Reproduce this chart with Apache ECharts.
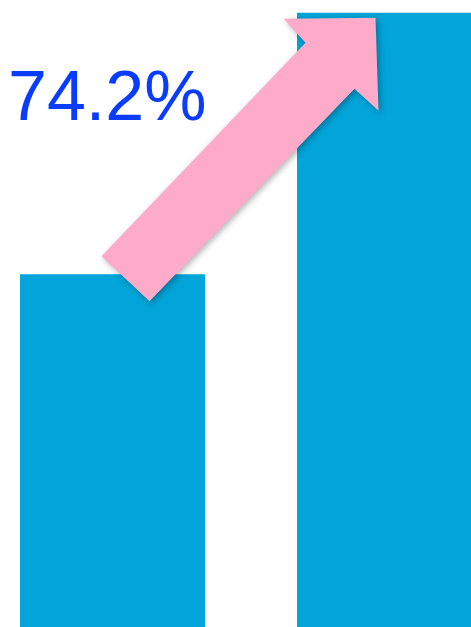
<!DOCTYPE html>
<html>
<head>
<meta charset="utf-8">
<script src="https://cdn.jsdelivr.net/npm/echarts@6/dist/echarts.min.js"></script>
<style>
  html, body { margin: 0; padding: 0; background: #ffffff; }
  #chart { width: 471px; height: 627px; }
</style>
</head>
<body>
<div id="chart"></div>
<script>
const categories = ['before', 'after'];
const values = [100, 174.2];
const growthLabel = '74.2%';

const chart = echarts.init(document.getElementById('chart'));

const option = {
    animation: false,
    grid: { left: 112.5, right: 81.5, top: 0, bottom: 0 },
    xAxis: {
        type: 'category',
        data: categories,
        boundaryGap: false,
        show: false
    },
    yAxis: {
        type: 'value',
        min: 0,
        max: 177.8,
        show: false
    },
    series: [
        {
            type: 'bar',
            data: values,
            barWidth: 185,
            clip: false,
            silent: true,
            itemStyle: { color: '#02A4D9' }
        }
    ]
};
chart.setOption(option);

// arrow anchored on the two bar tops
const a = chart.convertToPixel({ seriesIndex: 0 }, [0, values[0]]);
const b = chart.convertToPixel({ seriesIndex: 0 }, [1, values[1]]);
const arrowPts = [
    [a[0] - 11, a[1] - 18],
    [b[0] - 84, b[1] + 30],
    [b[0] - 106, b[1] + 6],
    [b[0] - 14, b[1] + 5],
    [b[0] - 11, b[1] + 98],
    [b[0] - 35, b[1] + 76],
    [a[0] + 37, a[1] + 27]
];

chart.setOption({
    graphic: [
        {
            type: 'polygon',
            shape: { points: arrowPts },
            style: {
                fill: '#FDABC8',
                shadowBlur: 6,
                shadowOffsetX: 2,
                shadowOffsetY: 2,
                shadowColor: 'rgba(0,0,0,0.3)'
            },
            z: 10
        },
        {
            type: 'text',
            x: 8,
            y: 101,
            style: {
                text: growthLabel,
                fill: '#0A3CFF',
                font: '70px "Liberation Sans", Arial, sans-serif',
                verticalAlign: 'middle',
                align: 'left'
            },
            z: 11
        }
    ]
});
</script>
</body>
</html>
